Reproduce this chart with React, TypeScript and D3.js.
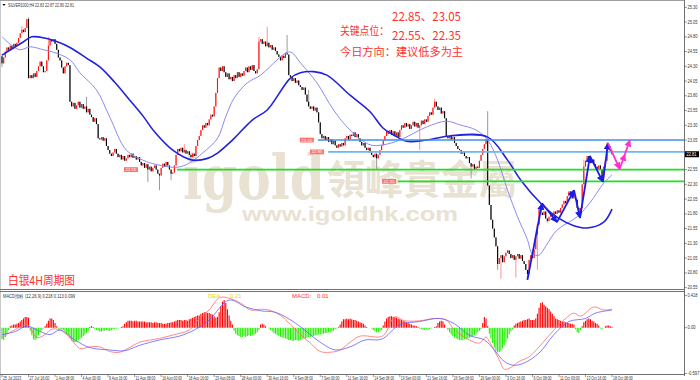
import React from "react";
import * as d3 from "d3";

// ---------- DATA ----------
const firstOpen = 24.47;
const closes: number[] = [
  24.35, 24.45, 24.55, 24.62, 24.58, 24.65, 24.60, 24.68, 24.64, 24.70, 24.78, 24.86, 24.92, 24.88, 24.95, 25.10, 24.10, 24.15,
  24.10, 24.18, 24.12, 24.22, 24.30, 24.38, 24.30, 24.20, 24.22, 24.40, 24.65, 24.75, 24.72, 24.76, 24.68, 24.58, 24.45, 24.40, 24.28, 24.18, 24.30, 24.36, 24.32, 23.70,
  23.62, 23.68, 23.58, 23.64, 23.70, 23.60, 23.66, 23.58, 23.62, 23.52, 23.58, 23.48, 23.44, 23.36, 23.42, 23.32, 23.08,
  23.06, 23.10, 23.04, 23.08, 22.95, 22.88, 22.82, 22.78, 22.84, 22.90, 22.82, 22.76, 22.80, 22.72, 22.78, 22.70, 22.74, 22.80, 22.76, 22.82,
  22.75, 22.78, 22.72, 22.76, 22.68, 22.62, 22.66, 22.58, 22.64, 22.55, 22.60, 22.52, 22.58, 22.62, 22.55, 22.48, 22.45, 22.58, 22.65, 22.60,
  22.68, 22.62, 22.55, 22.48, 22.50, 22.62, 22.80, 22.90,
  22.86, 22.92, 22.84, 22.88, 22.82, 22.86, 22.80, 22.76, 22.82, 22.78, 22.95, 23.05, 23.12, 23.22, 23.30, 23.26, 23.34, 23.30, 23.40, 23.48,
  23.45, 23.62, 23.85, 24.10, 24.28,
  24.22, 24.30, 24.20, 24.12, 24.18, 24.08, 24.12, 24.05, 24.15, 24.10, 24.20, 24.12, 24.18, 24.14, 24.22, 24.28, 24.20, 24.30, 24.24, 24.32,
  24.22, 24.18, 24.25, 24.72, 24.76, 24.68, 24.72, 24.64, 24.70, 24.62, 24.66, 24.58, 24.62, 24.56, 24.50, 24.46, 24.40, 24.48, 24.44, 24.52,
  24.50, 24.15,
  24.12, 24.05, 24.10, 24.02, 24.06, 23.98, 23.95, 23.90, 23.94, 23.82, 23.70, 23.62, 23.58, 23.62, 23.55, 23.60, 23.52, 23.35, 23.15, 23.08,
  23.12, 23.05, 23.10, 23.02, 23.06, 22.98, 23.04, 22.96, 22.92, 22.98, 22.94, 23.00, 22.96, 23.08, 23.12, 23.06, 23.14,
  23.12, 23.18, 23.10, 23.15, 23.08, 23.02, 22.96, 23.00, 22.92, 22.88, 22.92, 22.84, 22.80, 22.76, 22.82, 22.74, 22.80, 22.88, 22.96, 23.04,
  23.12, 23.20, 23.16, 23.22, 23.14, 23.20, 23.12, 23.18, 23.10, 23.22, 23.30, 23.26, 23.34, 23.28, 23.32, 23.24, 23.30, 23.36, 23.28, 23.34,
  23.26, 23.30, 23.38, 23.32, 23.40, 23.36, 23.46, 23.52, 23.48, 23.60, 23.70, 23.62, 23.56, 23.60, 23.50, 23.54, 23.42, 23.12, 23.08, 23.12,
  23.06, 23.10, 23.00, 22.95, 22.90, 22.88, 22.82, 22.86, 22.78, 22.74, 22.76, 22.66, 22.60, 22.64, 22.56, 22.60, 22.58, 22.70, 22.80, 22.90,
  22.98, 23.06, 22.28,
  21.95, 21.70, 21.55, 21.40, 21.25, 20.95, 21.05, 21.10, 20.98, 21.08, 21.14, 21.18, 21.12, 21.05, 21.10, 21.02, 21.08, 21.12, 21.04, 21.10,
  21.00, 20.95, 20.85, 20.78, 21.02, 21.10, 21.05, 21.20, 21.45, 21.62, 21.90,
  21.82, 21.78, 21.84, 21.72, 21.68, 21.75, 21.80, 21.76, 21.84, 21.80, 21.86, 21.82, 21.90, 21.96, 22.02, 21.98, 22.10, 22.18, 22.12, 22.06,
  22.10, 22.04, 21.90, 21.76, 21.90, 22.30, 22.60, 22.70, 22.78, 22.74, 22.66, 22.72, 22.64, 22.60, 22.56, 22.62, 22.55, 22.42, 22.60, 22.70,
  22.98, 22.94, 22.86, 22.81,
];
// notable shadows [bar, price]
const highWicks: [number, number][] = [
  [0, 24.49], [12, 24.98], [16, 25.13], [28, 24.80], [51, 23.78], [110, 22.98], [155, 24.80], [160, 24.97],
  [172, 24.83], [185, 23.90], [261, 23.75], [293, 23.54], [365, 23.02], [351, 22.72],
];
const lowWicks: [number, number][] = [
  [0, 24.29], [88, 22.34], [95, 22.20], [102, 22.37], [226, 22.55], [252, 22.88], [283, 22.40], [301, 20.70],
  [310, 20.72], [317, 20.68], [323, 20.85], [329, 21.65], [362, 22.34], [299, 20.85],
];
// moving averages [bar, price]
const maSlow: [number, number][] = [
  [0, 24.49], [12, 24.70], [18, 24.80], [27, 24.77], [33, 24.72], [41, 24.62], [51, 24.44], [59, 24.29], [68, 24.03],
  [77, 23.73], [85, 23.46], [92, 23.19], [103, 22.88], [115, 22.71], [124, 22.74], [130, 22.83], [139, 23.05],
  [151, 23.39], [160, 23.56], [174, 24.10], [180, 24.19], [188, 24.21], [196, 24.15], [210, 23.81], [222, 23.53],
  [230, 23.25], [236, 23.14], [244, 23.03], [256, 23.05], [270, 23.12], [293, 23.10], [305, 22.71], [313, 22.37],
  [325, 21.98], [335, 21.74], [345, 21.60], [353, 21.56], [363, 21.66], [368, 21.88],
];
const maFast: [number, number][] = [
  [0, 24.80], [7, 24.63], [11, 24.58], [17, 24.63], [25, 24.58], [31, 24.54], [41, 24.41], [47, 24.19], [57, 23.90],
  [65, 23.44], [75, 22.88], [85, 22.71], [94, 22.63], [106, 22.59], [113, 22.66], [121, 22.83], [130, 23.08],
  [135, 23.45], [140, 23.76], [148, 24.02], [156, 24.15], [166, 24.41], [172, 24.54], [175, 24.53], [180, 24.36],
  [190, 24.02], [200, 23.56], [210, 23.22], [222, 22.97], [230, 22.97], [240, 23.05], [256, 23.27], [268, 23.37],
  [276, 23.31], [286, 23.22], [293, 23.05], [299, 22.71], [305, 22.20], [311, 21.75], [317, 21.36], [320, 21.12],
  [324, 21.10], [328, 21.25], [335, 21.53], [347, 21.75], [355, 22.00], [363, 22.32], [368, 22.46],
];
// MACD histogram per bar
const hist: number[] = [
  -0.15, -0.16, -0.12, -0.08, -0.03,
  0.02, 0.03, 0.04, 0.04, 0.05, 0.06, 0.08, 0.10, 0.12, 0.14, 0.14, 0.13,
  -0.04, -0.10, -0.15, -0.16, -0.14, -0.10, -0.06,
  -0.03, -0.01, 0.02, 0.05,
  0.09, 0.12, 0.12, 0.10, 0.06,
  0.02, -0.01, -0.02, -0.02, -0.03,
  -0.05, -0.08, -0.10, -0.14, -0.17, -0.19, -0.19, -0.18, -0.17, -0.15, -0.13, -0.11, -0.09, -0.07, -0.04,
  0.01, 0.02, 0.01,
  -0.02, -0.03, -0.04, -0.05, -0.05, -0.04, -0.04, -0.03, -0.04, -0.04, -0.03, -0.02, -0.02, -0.01, -0.01,
  0.0, 0.01, 0.02,
  0.05, 0.07, 0.09, 0.09, 0.09, 0.08, 0.09, 0.09, 0.08, 0.08, 0.08, 0.08, 0.08, 0.07, 0.07, 0.07, 0.07, 0.06, 0.07, 0.07,
  0.06, 0.06, 0.06, 0.05, 0.05, 0.05, 0.06, 0.06, 0.07, 0.07,
  0.08, 0.09, 0.10, 0.10, 0.10, 0.09, 0.10, 0.10, 0.09, 0.11,
  0.12, 0.13, 0.14, 0.15, 0.16, 0.16,
  0.18, 0.19, 0.20, 0.20, 0.19, 0.19, 0.18, 0.17, 0.15,
  0.13, 0.14, 0.20,
  0.28, 0.34, 0.36, 0.32,
  0.24, 0.16, 0.09, 0.04,
  -0.04, -0.08, -0.10, -0.11, -0.12, -0.12, -0.11, -0.12, -0.11, -0.10, -0.11, -0.10, -0.09, -0.08, -0.06, -0.03,
  0.04, 0.05, 0.04, 0.02,
  0.0, -0.01,
  -0.03, -0.05, -0.07, -0.08, -0.10, -0.11, -0.12, -0.13, -0.13, -0.14, -0.15, -0.16, -0.16, -0.17, -0.17, -0.16, -0.16, -0.17, -0.16,
  -0.15, -0.14, -0.14, -0.13, -0.12, -0.12, -0.11, -0.11, -0.10, -0.10, -0.09, -0.09, -0.08, -0.08, -0.07, -0.07, -0.06, -0.06, -0.05, -0.04,
  -0.02, -0.01, 0.01,
  0.04, 0.08, 0.11, 0.11, 0.12, 0.11, 0.12,
  0.11, 0.10, 0.10, 0.09, 0.08, 0.07, 0.06, 0.05, 0.03,
  0.01, 0.0, 0.0, -0.01,
  -0.03, -0.05, -0.06, -0.06, -0.05, -0.03,
  0.03, 0.08, 0.12, 0.14, 0.15, 0.15, 0.14, 0.14, 0.13, 0.12, 0.11, 0.10, 0.09,
  0.08, 0.07, 0.06, 0.05, 0.04, 0.03, 0.03,
  0.02, 0.01, -0.01,
  -0.02, -0.03, -0.03, -0.02, -0.03, -0.02,
  -0.01, 0.0, 0.01, 0.02,
  0.06, 0.08, 0.09, 0.08,
  0.04, 0.0,
  -0.03, -0.06, -0.09, -0.11, -0.13, -0.14, -0.15, -0.16, -0.16, -0.16, -0.15, -0.15, -0.14, -0.13, -0.12, -0.11, -0.10,
  -0.08, -0.06, -0.04, -0.02,
  0.06, 0.14, 0.12,
  0.02,
  -0.08, -0.14, -0.20, -0.26, -0.30, -0.32, -0.32, -0.30, -0.27, -0.23, -0.19, -0.14, -0.09,
  -0.05, -0.02,
  0.03, 0.05, 0.06, 0.07, 0.08, 0.09, 0.10, 0.10, 0.11, 0.12, 0.10, 0.10,
  0.10, 0.12, 0.18,
  0.26, 0.32, 0.33, 0.30, 0.28,
  0.26, 0.24, 0.21, 0.18, 0.15,
  0.12, 0.11, 0.10, 0.09, 0.08, 0.08,
  0.07, 0.06, 0.06, 0.05, 0.05, 0.04,
  -0.02, -0.06, -0.07,
  -0.03, 0.02,
  0.07, 0.09, 0.11, 0.12, 0.11,
  0.09, 0.08, 0.06, 0.05, 0.03,
  -0.01, -0.02, 0.0,
  0.02, 0.03, 0.03, 0.02, 0.01,
];
const macdRed: [number, number][] = [
  [0, -0.13], [5, -0.06], [15, 0.04], [17, 0.0], [21, -0.13], [26, -0.09], [30, -0.02], [35, -0.03], [41, -0.13],
  [47, -0.27], [53, -0.25], [59, -0.25], [65, -0.31], [71, -0.32], [76, -0.27], [83, -0.19], [95, -0.14],
  [104, -0.09], [113, -0.03], [119, 0.12], [125, 0.23], [131, 0.39], [136, 0.39], [144, 0.32], [150, 0.23],
  [156, 0.24], [161, 0.23], [168, 0.16], [174, 0.04], [180, -0.09], [186, -0.2], [192, -0.31], [198, -0.32],
  [204, -0.29], [210, -0.19], [216, -0.11], [228, -0.12], [231, -0.08], [237, 0.14], [243, 0.09], [252, 0.09],
  [261, 0.12], [268, 0.10], [273, -0.03], [282, -0.16], [288, -0.20], [292, -0.12], [294, -0.18], [300, -0.42],
  [303, -0.54], [306, -0.53], [312, -0.44], [318, -0.38], [324, -0.25], [333, -0.03], [339, 0.10], [345, 0.19],
  [349, 0.15], [357, 0.27], [363, 0.23], [368, 0.24],
];
const macdBlue: [number, number][] = [
  [0, -0.09], [8, -0.05], [15, 0.02], [23, -0.05], [29, -0.09], [35, -0.03], [44, -0.16], [53, -0.26], [65, -0.29],
  [74, -0.30], [83, -0.23], [95, -0.16], [107, -0.11], [116, -0.03], [125, 0.10], [137, 0.36], [147, 0.27],
  [156, 0.22], [165, 0.20], [177, 0.06], [192, -0.19], [201, -0.29], [210, -0.25], [219, -0.16], [229, -0.15],
  [240, 0.04], [252, 0.08], [264, 0.12], [273, 0.05], [282, -0.10], [291, -0.16], [297, -0.29], [303, -0.44],
  [309, -0.49], [315, -0.46], [324, -0.33], [333, -0.09], [342, 0.08], [352, 0.12], [358, 0.19], [368, 0.23],
];
const priceTicks = [25.30, 25.05, 24.80, 24.55, 24.30, 24.05, 23.80, 23.55, 23.30, 23.05, 22.80, 22.55, 22.30, 22.05, 21.80, 21.55, 21.30, 21.05, 20.80, 20.55];
const macdTicks = [0.418, 0.0, -0.597];
const macdTickLabels = ["0.418", "0.00", "-0.597"];
const dateLabels = [
  "25 Jul 2023", "27 Jul 16:00", "1 Aug 08:00", "4 Aug 00:00", "8 Aug 16:00", "11 Aug 08:00", "16 Aug 00:00", "18 Aug 16:00",
  "23 Aug 08:00", "28 Aug 00:00", "30 Aug 16:00", "4 Sep 08:00", "7 Sep 00:00", "11 Sep 16:00", "14 Sep 08:00", "19 Sep 00:00",
  "21 Sep 16:00", "26 Sep 08:00", "29 Sep 00:00", "3 Oct 16:00", "6 Oct 08:00", "11 Oct 00:00", "13 Oct 16:00", "18 Oct 08:00",
];
const dateStep = 16;
// key levels: price, bar where the line starts, bar where its tag sits
const levelPrices = [23.05, 22.85, 22.55, 22.35];
const levelStart = [190.6, 196.7, 105.6, 238.9];
const levelTagBar = [179.7, 185.8, 73.6, 229.3];
// hand-drawn path annotation [bar, price]
const bluePath: [number, number][] = [
  [317, 20.68], [325.8, 21.98], [334.8, 21.66], [345.1, 22.2], [348.7, 21.73], [354.7, 22.78], [362.5, 22.34], [365.6, 23.0],
];
const pinkPath: [number, number][] = [[365.6, 23.0], [372.6, 22.56], [375.8, 22.81], [378.8, 23.05]];
const keyLevelsTop = "22.85、23.05";
const keyLevelsBottom = "22.55、22.35";
const lastPrice = 22.81;

// ---------- CHART ----------
const xB = d3.scaleLinear().domain([0, 368]).range([2, 612]);
const yP = d3.scaleLinear().domain([20.55, 25.3]).range([287.6, 7.3]);
const yM = d3.scaleLinear().domain([-0.597, 0.418]).range([373.5, 295.6]);
const RIGHT = 684;
const SMALL = "'Liberation Sans', 'DejaVu Sans', sans-serif";

export default function App() {
  const hiMap = new Map(highWicks);
  const loMap = new Map(lowWicks);
  const candles = closes.map((c, i) => {
    const o = i === 0 ? firstOpen : closes[i - 1];
    const h = Math.max(o, c, hiMap.get(i) ?? -Infinity);
    const l = Math.min(o, c, loMap.get(i) ?? Infinity);
    return { i, o, c, h, l };
  });
  const priceLine = d3
    .line<[number, number]>()
    .x((d) => xB(d[0]))
    .y((d) => yP(d[1]))
    .curve(d3.curveCatmullRom.alpha(0.5));
  const macdLine = d3
    .line<[number, number]>()
    .x((d) => xB(d[0]))
    .y((d) => yM(d[1]))
    .curve(d3.curveCatmullRom.alpha(0.5));
  const levelColors = ["#3f8fe8", "#6db5f6", "#1ee01e", "#1ee01e"];
  const redTxt = "#ff3030";
  const cjk = "'Noto Sans CJK SC', sans-serif";
  const wm = "#e9e1d2";

  const segs = (pts: [number, number][]) =>
    pts.slice(1).map((p, k) => ({ a: pts[k], b: p }));

  return (
    <svg width={700} height={380} style={{ position: "absolute", left: 0, top: 0, background: "#fff" }}>
      <defs>
        <marker id="ab" viewBox="0 0 10 10" refX="9" refY="5" markerWidth="4" markerHeight="4" orient="auto">
          <path d="M0,0 L10,5 L0,10 Z" fill="#1c1ce8" />
        </marker>
        <marker id="ap" viewBox="0 0 10 10" refX="9" refY="5" markerWidth="4" markerHeight="4" orient="auto">
          <path d="M0,0 L10,5 L0,10 Z" fill="#ff2fd0" />
        </marker>
      </defs>
      <rect x={0} y={0} width={700} height={380} fill="#fff" />

      {/* watermark */}
      <text x={183} y={199} fontFamily="'DejaVu Serif', serif" fontWeight="bold" fontSize={62} fill={wm}
        textLength={142} lengthAdjust="spacingAndGlyphs">igold</text>
      <text x={327} y={194} fontFamily="'Noto Sans CJK TC', sans-serif" fontWeight="bold" fontSize={40} fill={wm}
        textLength={190} lengthAdjust="spacingAndGlyphs">領峰貴金屬</text>
      <text x={242} y={221} fontFamily="'Liberation Sans', sans-serif" fontWeight="bold" fontSize={20} fill={wm}
        textLength={216} lengthAdjust="spacingAndGlyphs">www.igoldhk.com</text>

      {/* frame */}
      <line x1={0.5} y1={0} x2={0.5} y2={380} stroke="#c8c8c8" />
      <line x1={0} y1={0.5} x2={RIGHT} y2={0.5} stroke="#a0a0a0" />
      <line x1={RIGHT + 0.5} y1={0} x2={RIGHT + 0.5} y2={376} stroke="#707070" />
      <line x1={0} y1={289.5} x2={RIGHT} y2={289.5} stroke="#707070" />
      <line x1={0} y1={291.5} x2={RIGHT} y2={291.5} stroke="#707070" />
      <line x1={0} y1={374.5} x2={RIGHT} y2={374.5} stroke="#707070" />

      {/* header */}
      <path d="M2.5,4 L5.5,4 L4,6 Z" fill="#000" />
      <text x={8} y={7} fontSize={4.6} fontFamily={SMALL} fill="#333" textLength={66} lengthAdjust="spacingAndGlyphs">SILVER1000,H4  22.83 22.87 22.80 22.81</text>

      {/* candles */}
      <g>
        {candles.map((d) => {
          const up = d.c > d.o;
          const flat = Math.abs(d.c - d.o) < 0.005;
          const col = flat ? "#22dd22" : up ? "#ff1010" : "#000";
          const cx = xB(d.i);
          const top = yP(Math.max(d.o, d.c));
          const bot = yP(Math.min(d.o, d.c));
          return (
            <g key={d.i}>
              <line x1={cx} x2={cx} y1={yP(d.h)} y2={yP(d.l)} stroke={up ? "#ff6060" : "#707070"} strokeWidth={0.7} />
              <rect x={cx - 0.55} width={1.1} y={top} height={Math.max(0.8, bot - top)} fill={col} />
            </g>
          );
        })}
      </g>

      {/* moving averages */}
      <path d={priceLine(maFast) ?? ""} fill="none" stroke="#8a8af5" strokeWidth={1} />
      <path d={priceLine(maSlow) ?? ""} fill="none" stroke="#2222dd" strokeWidth={1.6} />

      {/* key levels */}
      {levelPrices.map((p, k) => (
        <g key={k}>
          <line x1={xB(levelStart[k])} x2={RIGHT} y1={yP(p)} y2={yP(p)} stroke={levelColors[k]} strokeWidth={1.6} />
          <rect x={xB(levelTagBar[k])} y={yP(p) - 2.4} width={14} height={4.8} fill="#ff7070" />
          <text x={xB(levelTagBar[k]) + 1.5} y={yP(p) + 1.5} fontSize={4} fill="#fff"
            fontFamily={SMALL} textLength={11} lengthAdjust="spacingAndGlyphs">{p.toFixed(2)}</text>
        </g>
      ))}

      {/* arrows */}
      {segs(bluePath).map((s, k) => (
        <line key={"b" + k} x1={xB(s.a[0])} y1={yP(s.a[1])} x2={xB(s.b[0])} y2={yP(s.b[1])}
          stroke="#1c1ce8" strokeWidth={1.8} markerEnd="url(#ab)" />
      ))}
      {segs(pinkPath).map((s, k) => (
        <line key={"p" + k} x1={xB(s.a[0])} y1={yP(s.a[1])} x2={xB(s.b[0])} y2={yP(s.b[1])}
          stroke="#ff2fd0" strokeWidth={1.8} markerEnd="url(#ap)" />
      ))}

      {/* price axis */}
      {priceTicks.map((p) => (
        <g key={p}>
          <line x1={RIGHT} x2={RIGHT + 3} y1={yP(p)} y2={yP(p)} stroke="#555" strokeWidth={0.6} />
          <text x={RIGHT + 3.5} y={yP(p) + 1.6} fontSize={4.6} fill="#333" fontFamily={SMALL}
            textLength={10} lengthAdjust="spacingAndGlyphs">{p.toFixed(2)}</text>
        </g>
      ))}
      <rect x={RIGHT + 1} y={yP(lastPrice) - 3} width={14} height={6} fill="#000" />
      <text x={RIGHT + 2.5} y={yP(lastPrice) + 1.6} fontSize={4.6} fill="#fff" fontFamily={SMALL}
        textLength={10} lengthAdjust="spacingAndGlyphs">{lastPrice.toFixed(2)}</text>

      {/* red annotation text */}
      <text x={392} y={21} fontSize={12} fill={redTxt} fontFamily={cjk} textLength={69} lengthAdjust="spacingAndGlyphs">{keyLevelsTop}</text>
      <text x={340} y={35} fontSize={11} fill={redTxt} fontFamily={cjk} textLength={49} lengthAdjust="spacingAndGlyphs">关键点位：</text>
      <text x={392} y={40} fontSize={12} fill={redTxt} fontFamily={cjk} textLength={69} lengthAdjust="spacingAndGlyphs">{keyLevelsBottom}</text>
      <text x={340} y={56} fontSize={11} fill={redTxt} fontFamily={cjk} textLength={123} lengthAdjust="spacingAndGlyphs">今日方向：建议低多为主</text>
      <text x={8} y={285} fontSize={12} fill={redTxt} fontFamily={cjk} textLength={67} lengthAdjust="spacingAndGlyphs">白银4H周期图</text>

      {/* MACD */}
      {hist.map((v, i) => (
        <line key={i} x1={xB(i)} x2={xB(i)} y1={yM(0)} y2={yM(v)} stroke={v >= 0 ? "#ff0000" : "#22ee00"} strokeWidth={1.1} />
      ))}
      <path d={macdLine(macdRed) ?? ""} fill="none" stroke="#ff6a6a" strokeWidth={0.8} />
      <path d={macdLine(macdBlue) ?? ""} fill="none" stroke="#6060ff" strokeWidth={0.8} />
      <text x={3} y={297.5} fontSize={4.6} fill="#333" fontFamily={SMALL} textLength={72} lengthAdjust="spacingAndGlyphs">MACD指标 (12,26,9) 0.218 0.113 0.099</text>
      <text x={208} y={298} fontSize={6} fill="#e8d820" fontFamily={SMALL}>DEA:</text>
      <text x={230} y={298} fontSize={6} fill="#e8d820" fontFamily={SMALL}>0.21</text>
      <text x={292} y={298} fontSize={6} fill="#ff3030" fontFamily={SMALL}>MACD:</text>
      <text x={317} y={298} fontSize={6} fill="#ff3030" fontFamily={SMALL}>0.01</text>
      {macdTicks.map((v, k) => (
        <g key={k}>
          <line x1={RIGHT} x2={RIGHT + 3} y1={yM(v)} y2={yM(v)} stroke="#555" strokeWidth={0.6} />
          <text x={RIGHT + 3.5} y={yM(v) + 1.6} fontSize={4.6} fill="#333" fontFamily={SMALL}
            textLength={macdTickLabels[k].length * 2} lengthAdjust="spacingAndGlyphs">{macdTickLabels[k]}</text>
        </g>
      ))}

      {/* time axis */}
      {dateLabels.map((t, k) => (
        <g key={t}>
          <line x1={xB(k * dateStep)} x2={xB(k * dateStep)} y1={374.5} y2={377} stroke="#555" strokeWidth={0.6} />
          <text x={xB(k * dateStep) + 1} y={379.5} fontSize={4.5} fill="#333" fontFamily={SMALL}
            textLength={t.length * 1.65} lengthAdjust="spacingAndGlyphs">{t}</text>
        </g>
      ))}
    </svg>
  );
}
